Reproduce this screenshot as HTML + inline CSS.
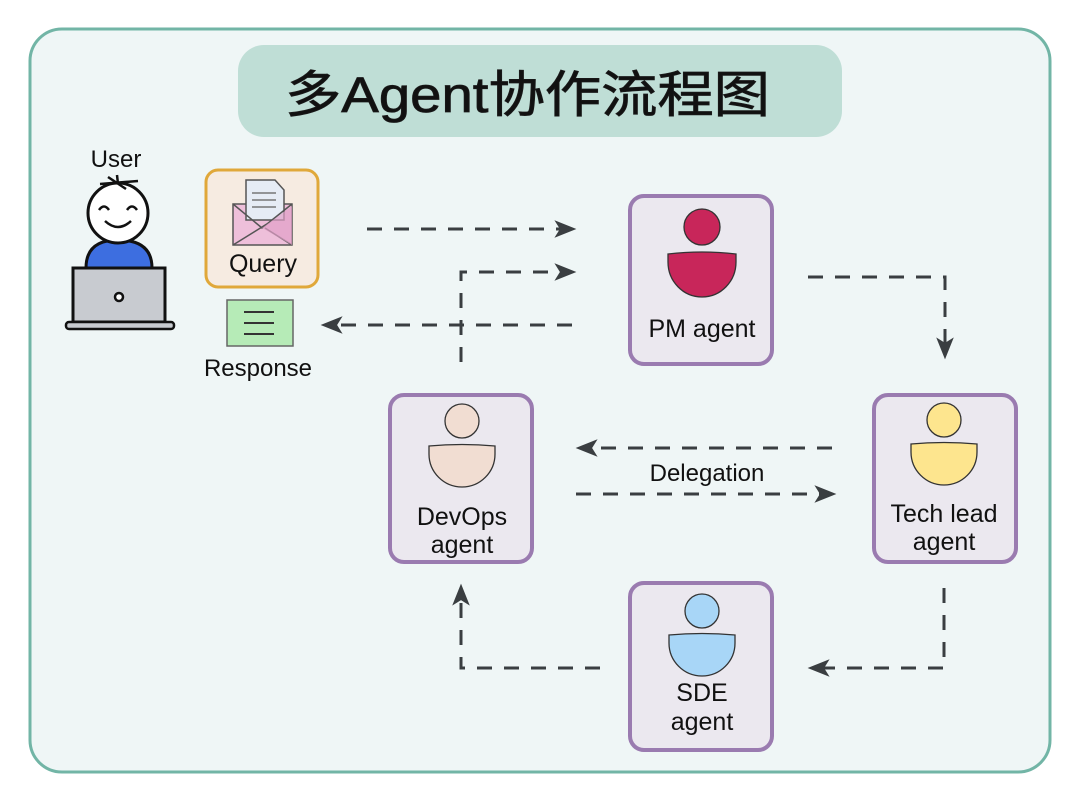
<!DOCTYPE html>
<html><head><meta charset="utf-8"><style>
html,body{margin:0;padding:0;background:#fff;}
svg{display:block;}
text{font-family:"Liberation Sans","Noto Sans CJK SC",sans-serif;fill:#111;}
</style></head><body>
<svg width="1080" height="799" viewBox="0 0 1080 799" xmlns="http://www.w3.org/2000/svg">
<defs>
<marker id="ah" viewBox="0 0 20 20" refX="16" refY="10" markerWidth="22" markerHeight="22" markerUnits="userSpaceOnUse" orient="auto">
<path d="M0,2 L20,10 L0,18 L5,10 Z" fill="#3a3e41"/>
</marker>
</defs>
<rect x="30" y="29" width="1020" height="743" rx="32" fill="#eff6f6" stroke="#72b5a6" stroke-width="3"/>
<rect x="238" y="45" width="604" height="92" rx="26" fill="#bfded6"/>
<text x="285" y="112" font-size="50" font-weight="normal" stroke="#1a1a1a" stroke-width="0.8" textLength="485" lengthAdjust="spacingAndGlyphs" fill="#1a1a1a">多Agent协作流程图</text>

<!-- user -->
<text x="116" y="167" font-size="24" text-anchor="middle">User</text>
<path d="M86,268 Q86,240 118,240 Q152,240 152,268 Z" fill="#3d6ee0" stroke="#111" stroke-width="3"/>
<circle cx="118" cy="213" r="30" fill="#fff" stroke="#111" stroke-width="3"/>
<path d="M100,184 L138,181 M108,177 L126,189 M117,175 L118,184" stroke="#111" stroke-width="2.5" fill="none"/>
<path d="M99,210 q5,-7 10,0 M127,210 q5,-7 10,0 M105,221 q13,12 26,0" stroke="#111" stroke-width="2.5" fill="none"/>
<rect x="73" y="268" width="92" height="54" fill="#c8cbd0" stroke="#111" stroke-width="3"/>
<circle cx="119" cy="297" r="4" fill="#fff" stroke="#111" stroke-width="2.5"/>
<rect x="66" y="322" width="108" height="7" rx="3" fill="#c8cbd0" stroke="#111" stroke-width="2.5"/>

<!-- query -->
<rect x="206" y="170" width="112" height="117" rx="12" fill="#f6ebe1" stroke="#e0a83a" stroke-width="3"/>
<rect x="233" y="204" width="59" height="41" fill="#eebfda" stroke="#555" stroke-width="1.5"/>
<path d="M246,180 L275,180 L284,190 L284,220 L246,220 Z" fill="#e6ecf5" stroke="#555" stroke-width="1.5"/>
<path d="M252,193 h24 M252,200 h24 M252,207 h24" stroke="#777" stroke-width="1.5"/>
<path d="M233,204 L262,228 L292,204 M233,245 L270,222 M292,245 L265,228" stroke="#555" stroke-width="1.5" fill="none"/>
<path d="M262,228 L292,245 L292,206 Z" fill="#e19fc8" opacity="0.7"/>
<text x="263" y="272" font-size="25" text-anchor="middle">Query</text>

<!-- response -->
<rect x="227" y="300" width="66" height="46" fill="#b6ebb7" stroke="#666" stroke-width="1.5"/>
<path d="M244,312 h30 M244,323 h30 M244,334 h30" stroke="#333" stroke-width="2"/>
<text x="258" y="376" font-size="24" text-anchor="middle">Response</text>

<!-- nodes -->
<g stroke="#9a7bb0" stroke-width="4" fill="#ebe8ef">
<rect x="630" y="196" width="142" height="168" rx="14"/>
<rect x="390" y="395" width="142" height="167" rx="14"/>
<rect x="874" y="395" width="142" height="167" rx="14"/>
<rect x="630" y="583" width="142" height="167" rx="14"/>
</g>
<g stroke="#333" stroke-width="1.3">
<circle cx="702" cy="227" r="18" fill="#c8265a"/>
<path d="M668,254 Q702,250 736,254 L736,262 A34,35 0 0 1 668,262 Z" fill="#c8265a"/>
<circle cx="462" cy="421" r="17" fill="#f1ddd2"/>
<path d="M429,446 Q462,443 495,446 L495,454 A33,33 0 0 1 429,454 Z" fill="#f1ddd2"/>
<circle cx="944" cy="420" r="17" fill="#fde58e"/>
<path d="M911,444 Q944,441 977,444 L977,452 A33,33 0 0 1 911,452 Z" fill="#fde58e"/>
<circle cx="702" cy="611" r="17" fill="#a8d6f7"/>
<path d="M669,635 Q702,632 735,635 L735,643 A33,33 0 0 1 669,643 Z" fill="#a8d6f7"/>
</g>
<g font-size="25" text-anchor="middle">
<text x="702" y="337">PM agent</text>
<text x="462" y="525">DevOps</text><text x="462" y="553">agent</text>
<text x="944" y="522">Tech lead</text><text x="944" y="550">agent</text>
<text x="702" y="701">SDE</text><text x="702" y="730">agent</text>
</g>
<text x="707" y="481" font-size="24" text-anchor="middle">Delegation</text>

<!-- arrows -->
<g stroke="#3a3e41" stroke-width="3" fill="none" stroke-dasharray="15 12">
<path d="M367,229 L572,229" marker-end="url(#ah)"/>
<path d="M461,362 L461,272 L572,272" marker-end="url(#ah)"/>
<path d="M572,325 L325,325" marker-end="url(#ah)"/>
<path d="M808,277 L945,277 L945,355" marker-end="url(#ah)"/>
<path d="M832,448 L580,448" marker-end="url(#ah)"/>
<path d="M576,494 L832,494" marker-end="url(#ah)"/>
<path d="M944,588 L944,668 L812,668" marker-end="url(#ah)"/>
<path d="M600,668 L461,668 L461,588" marker-end="url(#ah)"/>
</g>
</svg>
</body></html>
